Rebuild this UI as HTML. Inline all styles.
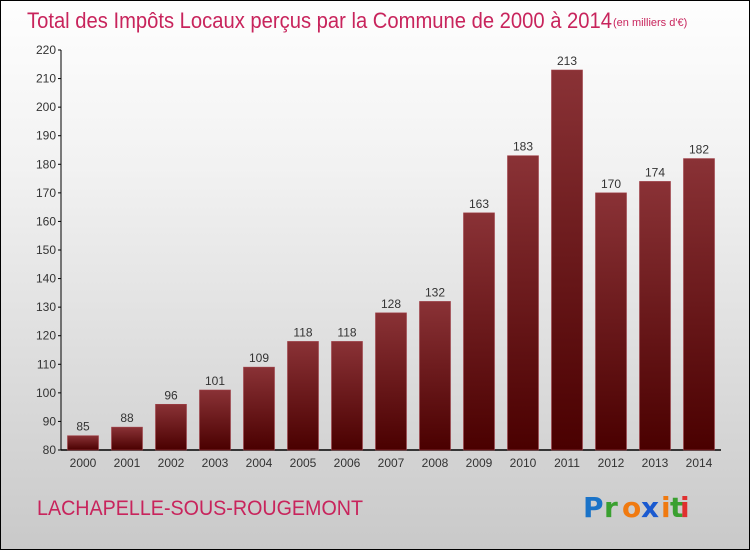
<!DOCTYPE html>
<html><head><meta charset="utf-8"><style>
body{margin:0}
#c{position:relative;width:748px;height:548px;border:1px solid #000;background:linear-gradient(#fefefe,#f2f2f2 30%,#c9c9c9);font-family:"Liberation Sans",sans-serif;overflow:hidden}
</style></head><body>
<div id="c">
<svg width="748" height="548" style="position:absolute;left:0;top:0">
<defs><linearGradient id="g" x1="0" y1="0" x2="0" y2="1"><stop offset="0" stop-color="#8a3236"/><stop offset="1" stop-color="#4a0000"/></linearGradient></defs>
<text x="26" y="27" font-size="22" fill="#c8245c" textLength="585" lengthAdjust="spacingAndGlyphs">Total des Impôts Locaux perçus par la Commune de 2000 à 2014</text>
<text x="612" y="25" font-size="11" fill="#c8245c">(en milliers d'€)</text>
<g id="axes"></g><g id="bars"></g>
<text x="36" y="514" font-size="21" fill="#c8245c" textLength="326" lengthAdjust="spacingAndGlyphs">LACHAPELLE-SOUS-ROUGEMONT</text>
<g font-size="28" font-family="DejaVu Sans,sans-serif" font-weight="bold">
<text x="582" y="516" fill="#1a73c8">P</text><text x="603" y="516" fill="#3aa030">r</text><text x="621" y="516" fill="#f07a10">o</text><text x="640" y="516" fill="#1a5ad0">x</text><text x="660" y="516" fill="#f07a10">i</text><text x="669" y="516" fill="#3aa030">t</text><text x="679" y="516" fill="#e03030">i</text></g>
</svg></div>
<script>
const years=["2000","2001","2002","2003","2004","2005","2006","2007","2008","2009","2010","2011","2012","2013","2014"];
const values=[85,88,96,101,109,118,118,128,132,163,183,213,170,174,182];
const ticks=[80,90,100,110,120,130,140,150,160,170,180,190,200,210,220];
const NS="http://www.w3.org/2000/svg";
const y=v=>449-(v-80)*400/140, x=i=>82+i*44;
function mk(t,a,p){const e=document.createElementNS(NS,t);for(const k in a)e.setAttribute(k,a[k]);p.appendChild(e);return e;}
const ax=document.getElementById('axes'),bs=document.getElementById('bars');
let l=mk('line',{x1:60,y1:y(220),x2:60,y2:449,stroke:'#000'},ax);


l=mk('line',{x1:60,y1:449,x2:720,y2:449,stroke:'#000','stroke-width':1.5},ax);


ticks.forEach(t=>{mk('line',{x1:57,x2:60,y1:y(t),y2:y(t),stroke:'#000'},ax);
const e=mk('text',{x:55,y:y(t)+4,'font-size':12,fill:'#333','text-anchor':'end'},ax);e.textContent=t;

});
years.forEach((yr,i)=>{const r=mk('rect',{x:x(i)-15.5,y:y(values[i]),width:31,height:449-y(values[i]),fill:'url(#g)',stroke:'#a04048','stroke-width':0.6},bs);


const v=mk('text',{x:x(i),y:y(values[i])-5,'font-size':12,fill:'#333','text-anchor':'middle'},bs);v.textContent=values[i];


const t=mk('text',{x:x(i),y:466,'font-size':12,fill:'#333','text-anchor':'middle'},bs);t.textContent=yr;

});
</script></body></html>
